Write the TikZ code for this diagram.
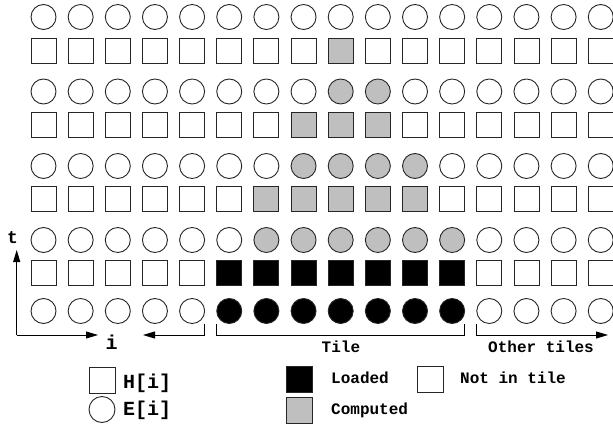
\documentclass[tikz,border=0pt]{standalone}
\usepackage{fontspec}
\setmonofont{Liberation Mono}
\usetikzlibrary{positioning, arrows.meta}

\tikzset{
  hcell/.style={draw=black!85, line width=0.9pt, minimum size=25pt, inner sep=0pt, outer sep=0pt},
  ecell/.style={hcell, circle},
  conn/.style={draw=black, line width=0.9pt},
  axis/.style={conn, -{Triangle[length=12pt, width=7pt]}},
  lbl/.style={font=\ttfamily\bfseries\fontsize{16}{16}\selectfont, inner sep=0pt, anchor=base west},
  biglbl/.style={lbl, font=\ttfamily\bfseries\fontsize{20}{20}\selectfont},
}

\begin{document}
\begin{tikzpicture}[x=1pt, y=-1pt]
\useasboundingbox (0,0) rectangle (613,425);

% E[i] rows (circles)
\foreach \rn/\y/\lo/\hi/\tint in {0/17/99/99/black!25, 1/91.5/8/9/black!25, 2/166/7/10/black!25, 3/240/6/11/black!25, 4/311/5/11/black} {
  \foreach \c in {0,...,15} {
    \pgfmathsetmacro\px{43.5+37.15*\c}
    \def\fc{white}
    \ifnum\c<\lo\relax\else\ifnum\c>\hi\relax\else\edef\fc{\tint}\fi\fi
    \node[ecell, fill=\fc] (e\rn-\c) at (\px, \y) {};
  }
}

% H[i] rows (squares)
\foreach \rn/\y/\lo/\hi/\tint in {0/51/8/8/black!25, 1/125/7/9/black!25, 2/199/6/10/black!25, 3/273/5/11/black} {
  \foreach \c in {0,...,15} {
    \pgfmathsetmacro\px{43.5+37.15*\c}
    \def\fc{white}
    \ifnum\c<\lo\relax\else\ifnum\c>\hi\relax\else\edef\fc{\tint}\fi\fi
    \node[hcell, fill=\fc] (h\rn-\c) at (\px, \y) {};
  }
}

% Axes
\coordinate (origin) at (16.7, 335);
\coordinate (t-end) at (16.7, 250);
\coordinate (i-end) at (98, 335);
\coordinate (i-left) at (143, 335);
\draw[axis] (origin) -- (t-end);
\draw[axis] (origin) -- (i-end);
\draw[axis] (e4-4.east |- e4-4.south) -- ++(0, 11.5) -- (i-left);
\node[biglbl, font=\ttfamily\bfseries\fontsize{18}{18}\selectfont] (t-lbl) at (7, 243.5) {t};
\node[biglbl] (i-lbl) at (105.5, 349.5) {i};

% Tile brackets
\coordinate (other-end) at (608, 335);
\draw[conn] (e4-5.west |- e4-5.south) -- ++(0, 11.5) -| (e4-11.east |- e4-11.south);
\draw[axis] (e4-12.west |- e4-12.south) -- ++(0, 11.5) -- (other-end);
\node[lbl] (tile-lbl) at (321.5, 352.7) {Tile};
\node[lbl] (other-lbl) at (488, 352.7) {Other tiles};

% Legend
\node[hcell, minimum size=26pt] (key-h) at (102, 380) {};
\node[ecell, minimum size=26pt] (key-e) at (102, 409.5) {};
\node[biglbl] (key-h-lbl) at (123, 388.3) {H[i]};
\node[biglbl] (key-e-lbl) at (123, 415) {E[i]};

\node[hcell, minimum size=26pt, fill=black] (key-load) at (299.7, 379) {};
\node[hcell, minimum size=26pt, fill=black!25] (key-comp) at (299.7, 410.5) {};
\node[hcell, minimum size=26pt] (key-out) at (430.3, 379) {};
\node[lbl] (key-load-lbl) at (331, 383.5) {Loaded};
\node[lbl] (key-comp-lbl) at (331, 414) {Computed};
\node[lbl] (key-out-lbl) at (460, 383.5) {Not in tile};
\end{tikzpicture}
\end{document}
